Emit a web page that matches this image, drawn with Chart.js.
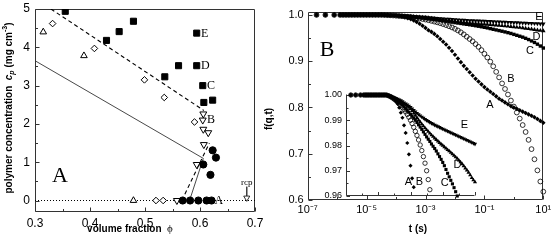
<!DOCTYPE html>
<html><head><meta charset="utf-8">
<script src="https://cdn.jsdelivr.net/npm/chart.js@4.4.0/dist/chart.umd.min.js"></script>
<style>
html,body{margin:0;padding:0;background:#fff;}
#wrap{position:relative;width:551px;height:244px;overflow:hidden;background:#fff;}
canvas{position:absolute;left:0;top:0;}
</style></head><body>
<div id="wrap">
<canvas id="cA" width="551" height="244"></canvas>
<canvas id="cB" width="551" height="244"></canvas>
<canvas id="cI" width="551" height="244"></canvas>
</div>
<script>
// ---------------- Panel A data (volume fraction phi, polymer concentration cp) ----------------
const sqPhi = [0.355, 0.430, 0.453, 0.479, 0.536, 0.561, 0.594, 0.594, 0.605, 0.607, 0.623];
const sqCp  = [4.94, 4.18, 4.41, 4.68, 3.23, 3.52, 4.37, 3.52, 3.00, 2.56, 2.62];
const diaPhi = [0.332, 0.408, 0.499, 0.535, 0.590, 0.520, 0.533];
const diaCp  = [4.62, 3.97, 3.15, 2.69, 2.05, 0, 0];
const triUpPhi = [0.315, 0.389, 0.479];
const triUpCp  = [4.40, 3.78, 0];
const triDnPhi = [0.606, 0.605, 0.606, 0.615, 0.607, 0.594, 0.558];
const triDnCp  = [2.26, 2.10, 1.86, 1.77, 1.46, 0.94, 0];
const circPhi = [0.623, 0.629, 0.606, 0.619, 0.5685, 0.582, 0.597, 0.612, 0.621];
const circCp  = [1.31, 1.12, 0.94, 0.67, 0, 0, 0, 0, 0];
const rcpPhi = [0.685];
const rcpCp  = [0.07];
const rcpArrowPhi = [0.685, 0.685];
const rcpArrowCp  = [0.36, 0.12];
const dashUpPhi = [0.329, 0.607];
const dashUpCp  = [5.0, 2.35];
const solidPhi = [0.3, 0.606, 0.581];
const solidCp  = [3.65, 1.1, 0];
const dashLoPhi = [0.567, 0.617];
const dashLoCp  = [0, 1.5];
const basePhi = [0.3, 0.7];
const baseCp  = [0, 0];
const xTicksA = [0.3, 0.4, 0.5, 0.6, 0.7];
const xMinorA = [0.35, 0.45, 0.55, 0.65];
const yTicksA = [0, 1, 2, 3, 4, 5];
const yMinorA = [0.5, 1.5, 2.5, 3.5, 4.5];

// ---------------- Panel B data (log10 t, f(q,t)) ----------------
const logTimes = [-6.7,-6.4,-6.1,-5.9,-5.8,-5.7,-5.6,-5.5,-5.4,-5.3,-5.2,-5.1,-5.0,-4.9,-4.8,-4.7,-4.6,
  -4.5,-4.4,-4.3,-4.2,-4.1,-4.0,-3.9,-3.8,-3.7,-3.6,-3.5,-3.4,-3.3,-3.2,-3.1,-3.0,-2.9,-2.8,-2.7,-2.6,
  -2.5,-2.4,-2.3,-2.2,-2.1,-2.0,-1.9,-1.8,-1.7,-1.6,-1.5,-1.4,-1.3,-1.2,-1.1,-1.0,-0.9,-0.8,-0.7,-0.6,
  -0.5,-0.4,-0.3,-0.2,-0.1,0.0,0.1,0.2,0.3,0.4,0.5,0.6,0.7,0.8,0.9,1.0];
const fA = [1,1,1,1,1,1,1,1,1,1,1,1,1,1,1,1,1,
  1.0,0.9998,0.9995,0.999,0.9987,0.9982,0.9975,0.9965,0.995,0.993,
  0.991,0.988,0.985,0.981,0.9765,0.972,0.967,0.9635,0.959,0.954,
  0.948,0.942,0.936,0.929,0.922,0.914,0.906,0.898,0.890,0.883,
  0.876,0.869,0.862,0.856,0.850,0.844,0.839,0.834,0.829,0.824,
  0.819,0.815,0.811,0.807,0.803,0.800,0.797,0.794,0.791,0.788,
  0.785,0.782,0.779,0.775,0.771,0.767];
const fB = [1,1,1,1,1,1,1,1,1,1,1,1,1,1,1,1,1,
  1.0,0.9998,0.9995,0.9992,0.9988,0.9983,0.9978,0.9972,0.9965,0.9958,
  0.995,0.9942,0.9933,0.9923,0.9912,0.990,0.9887,0.9872,0.9856,0.984,
  0.9822,0.9802,0.978,0.9756,0.973,0.970,0.9665,0.9625,0.958,0.953,
  0.948,0.943,0.937,0.931,0.924,0.916,0.908,0.899,0.889,0.877,
  0.865,0.852,0.840,0.828,0.815,0.802,0.789,0.776,0.762,0.747,
  0.730,0.710,0.688,0.664,0.640,0.618];
const fC = [1,1,1,1,1,1,1,1,1,1,1,1,1,1,1,1,1,
  1.0,0.9998,0.9996,0.9993,0.999,0.9986,0.9982,0.9977,0.9972,0.9966,
  0.996,0.9953,0.9946,0.9939,0.9932,0.9924,0.9916,0.9908,0.990,0.9891,
  0.9882,0.9873,0.9864,0.9854,0.9844,0.9834,0.9825,0.9816,0.9806,0.9797,
  0.9788,0.9778,0.9767,0.9756,0.9745,0.9733,0.972,0.9705,0.969,0.9676,
  0.9662,0.9648,0.9633,0.9617,0.960,0.958,0.956,0.954,0.952,0.9495,
  0.9468,0.9438,0.9405,0.9368,0.9328,0.9285];
const fD = [1,1,1,1,1,1,1,1,1,1,1,1,1,1,1,1,1,
  1.0,0.9998,0.9996,0.9994,0.9991,0.9988,0.9985,0.9981,0.9977,0.9973,
  0.9968,0.9964,0.9959,0.9954,0.995,0.9945,0.9937,0.9928,0.9919,0.991,
  0.9901,0.9893,0.9885,0.9877,0.9869,0.9862,0.9855,0.9848,0.9841,0.9835,
  0.9829,0.9823,0.9817,0.9811,0.9805,0.980,0.9794,0.9789,0.9783,0.9778,
  0.9772,0.9766,0.976,0.9754,0.9748,0.9741,0.9734,0.9727,0.9719,0.971,
  0.9702,0.9693,0.9683,0.9672,0.9663,0.9655];
const fE = [1,1,1,1,1,1,1,1,1,1,1,1,1,1,1,1,1,
  1.0,0.9998,0.9996,0.9994,0.9992,0.999,0.9987,0.9984,0.9981,0.9978,
  0.9974,0.997,0.9966,0.9962,0.9957,0.9952,0.9946,0.994,0.9934,0.9928,
  0.9923,0.9918,0.9913,0.9909,0.9904,0.990,0.9896,0.9892,0.9888,0.9885,
  0.9881,0.9878,0.9875,0.9872,0.9869,0.9866,0.9863,0.986,0.9857,0.9854,
  0.9851,0.9848,0.9845,0.9842,0.9839,0.9836,0.9833,0.983,0.9827,0.9824,
  0.9821,0.9818,0.9815,0.9812,0.9809,0.9806];
const xTicksB = [1e-7, 1e-5, 1e-3, 1e-1, 10];
const xMinorB = [1e-6, 1e-4, 1e-2, 1];
const yTicksB = [0.6, 0.7, 0.8, 0.9, 1.0];
const yMinorB = [0.65, 0.75, 0.85, 0.95];
const yTicksI = [0.96, 0.97, 0.98, 0.99, 1.00];
const yMinorI = [0.965, 0.975, 0.985, 0.995];

// ---------------- helpers ----------------
const SANS = '"Liberation Sans", Arial, Helvetica, sans-serif';
const SERIF = '"Liberation Serif", "Times New Roman", serif';
const xy = (xs, ys) => xs.map((x, i) => ({x: x, y: ys[i]}));
const tSec = logTimes.map(L => Math.pow(10, L));
const series = (vals) => vals.map((v, i) => ({x: tSec[i], y: v}));
const fixBox = (w, h) => (s) => {
  if (w !== null) s.width = w;
  if (h !== null) s.height = h;
  s.paddingLeft = 0; s.paddingRight = 0; s.paddingTop = 0; s.paddingBottom = 0;
};
const setTicks = (vals) => (s) => { s.ticks = vals.map(v => ({value: v})); };
const SUP = {'-':'\u207B','0':'\u2070','1':'\u00B9','2':'\u00B2','3':'\u00B3','4':'\u2074','5':'\u2075','6':'\u2076','7':'\u2077','8':'\u2078','9':'\u2079'};
const powLabel = v => '10' + String(Math.round(Math.log10(v))).split('').map(c => SUP[c]).join('');

const framePlugin = {
  id: 'frame',
  beforeDatasetsDraw(chart, args, o) {
    const {ctx, chartArea: a, scales} = chart;
    ctx.save();
    ctx.strokeStyle = o.color || '#222';
    ctx.lineWidth = 1;
    const L = Math.round(a.left) + 0.5, R = Math.round(a.right) - 0.5;
    const T = Math.round(a.top) + 0.5, B = Math.round(a.bottom) - 0.5;
    ctx.beginPath();
    if (o.full) { ctx.rect(L, T, R - L, B - T); }
    else { ctx.moveTo(L, T - 1); ctx.lineTo(L, B); ctx.lineTo(R, B); }
    ctx.stroke();
    ctx.beginPath();
    const tk = o.ticks || {};
    const doX = (vals, len) => (vals || []).forEach(v => {
      const px = Math.round(scales.x.getPixelForValue(v)) + 0.5;
      ctx.moveTo(px, B); ctx.lineTo(px, B - len);
    });
    const doY = (vals, len) => (vals || []).forEach(v => {
      const py = Math.round(scales.y.getPixelForValue(v)) + 0.5;
      ctx.moveTo(L, py); ctx.lineTo(L + len, py);
    });
    if (tk.x) { doX(tk.x.major, o.major || 4); doX(tk.x.minor, o.minor || 2.5); }
    if (tk.y) { doY(tk.y.major, o.major || 4); doY(tk.y.minor, o.minor || 2.5); }
    ctx.stroke();
    ctx.restore();
  }
};

const textPlugin = {
  id: 'texts',
  afterDraw(chart, args, o) {
    const ctx = chart.ctx;
    (o.items || []).forEach(it => {
      const parts = it.parts || [{t: it.t, f: it.f}];
      ctx.save();
      ctx.translate(it.x, it.y);
      if (it.rot) ctx.rotate(it.rot);
      ctx.fillStyle = '#000';
      ctx.textBaseline = 'middle';
      ctx.textAlign = 'left';
      let total = 0;
      parts.forEach(p => { ctx.font = p.f; p.w = ctx.measureText(p.t).width; total += p.w; });
      let cx = it.align === 'left' ? 0 : -total / 2;
      parts.forEach(p => { ctx.font = p.f; ctx.fillText(p.t, cx, p.dy || 0); cx += p.w; });
      ctx.restore();
    });
  }
};

const baseOpts = () => ({
  animation: false, responsive: false, maintainAspectRatio: false, devicePixelRatio: 1, events: [],
  plugins: {legend: {display: false}, tooltip: {enabled: false}}
});
const tickFont = (size) => ({family: SANS, size: size});
const axisCommon = {grid: {display: false, drawTicks: false}, border: {display: false}};

// ---------------- Chart A ----------------
const optsA = baseOpts();
optsA.layout = {padding: {left: 5, right: 296, top: 9, bottom: 0}};
optsA.scales = {
  x: Object.assign({}, axisCommon, {type: 'linear', min: 0.3, max: 0.7,
    afterBuildTicks: setTicks(xTicksA), afterFit: fixBox(null, 32),
    ticks: {padding: 4, color: '#000', font: tickFont(12), maxRotation: 0, autoSkip: false, callback: v => v.toFixed(1)}}),
  y: Object.assign({}, axisCommon, {type: 'linear', min: -0.3, max: 5,
    afterBuildTicks: setTicks(yTicksA), afterFit: fixBox(30, null),
    ticks: {padding: 5, color: '#000', font: tickFont(12), autoSkip: false, callback: v => String(v)}})
};
optsA.plugins.frame = {full: true, color: '#333', ticks: {x: {major: xTicksA, minor: xMinorA}, y: {major: yTicksA, minor: yMinorA}}};
optsA.plugins.texts = {items: [
  {parts: [
    {t: 'polymer concentration  ', f: 'bold 10px ' + SANS},
    {t: 'c', f: 'italic bold 10px ' + SANS},
    {t: 'p', f: 'italic bold 7px ' + SANS, dy: 3},
    {t: ' (mg cm', f: 'bold 10px ' + SANS},
    {t: '-3', f: 'bold 7px ' + SANS, dy: -4},
    {t: ')', f: 'bold 10px ' + SANS}], x: 9, y: 108, rot: -Math.PI / 2},
  {parts: [{t: 'volume fraction  ', f: 'bold 10px ' + SANS}, {t: '\u03D5', f: '11px ' + SERIF}], x: 130, y: 229},
  {t: 'A', f: '22px ' + SERIF, x: 60, y: 176},
  {t: 'E', f: '12px ' + SERIF, x: 201, y: 34, align: 'left'},
  {t: 'D', f: '12px ' + SERIF, x: 201, y: 66, align: 'left'},
  {t: 'C', f: '12px ' + SERIF, x: 207, y: 86, align: 'left'},
  {t: 'B', f: '12px ' + SERIF, x: 207, y: 119.5, align: 'left'},
  {t: 'A', f: '12px ' + SERIF, x: 214.5, y: 200.5, align: 'left'},
  {t: 'rcp', f: '9px ' + SERIF, x: 246.7, y: 183}
]};
const pt = (data, style, r, fill, extra) => Object.assign({data: data, showLine: false, pointStyle: style, pointRadius: r,
  pointBackgroundColor: fill, pointBorderColor: '#000', pointBorderWidth: 1}, extra || {});
const ln = (data, dash, w, col) => ({data: data, showLine: true, pointRadius: 0, borderColor: col || '#000', borderWidth: w, borderDash: dash, fill: false});
new Chart(document.getElementById('cA'), {
  type: 'scatter',
  data: {datasets: [
    pt(xy(sqPhi, sqCp), 'rect', 4.3, '#000'),
    pt(xy(circPhi, circCp), 'circle', 3.6, '#000'),
    pt(xy(triDnPhi, triDnCp), 'triangle', 4.0, '#fff', {pointRotation: 180}),
    pt(xy(diaPhi, diaCp), 'rectRot', 3.3, '#fff'),
    pt(xy(triUpPhi, triUpCp), 'triangle', 3.8, '#fff'),
    pt(xy(rcpPhi, rcpCp), 'triangle', 3.5, '#fff', {pointRotation: 180, pointBorderWidth: 0.8}),
    ln(xy(dashUpPhi, dashUpCp), [4, 3], 1.1),
    ln(xy(solidPhi, solidCp), [], 0.9, '#333'),
    ln(xy(dashLoPhi, dashLoCp), [4, 3], 1.1),
    ln(xy(rcpArrowPhi, rcpArrowCp), [], 0.8, '#333'),
    ln(xy(basePhi, baseCp), [1, 2], 1)
  ]},
  options: optsA,
  plugins: [framePlugin, textPlugin]
});

// ---------------- Chart B (main) ----------------
const mainStyles = [
  {d: fA, s: 'rectRot', r: 2.3, fill: '#000'},
  {d: fB, s: 'circle', r: 2.4, fill: 'rgba(0,0,0,0)'},
  {d: fC, s: 'rect', r: 2.4, fill: '#000'},
  {d: fD, s: 'triangle', r: 2.6, fill: '#000'},
  {d: fE, s: 'triangle', r: 2.6, fill: '#000', rot: 180}
];
const optsB = baseOpts();
optsB.layout = {padding: {left: 277.7, right: 7.7, top: 11.7, bottom: 0}};
optsB.scales = {
  x: Object.assign({}, axisCommon, {type: 'logarithmic', min: 1e-7, max: 10,
    afterBuildTicks: setTicks(xTicksB), afterFit: fixBox(null, 44),
    ticks: {padding: 3, color: '#000', font: tickFont(11), maxRotation: 0, autoSkip: false, callback: v => powLabel(v)}}),
  y: Object.assign({}, axisCommon, {type: 'linear', min: 0.6, max: 1.007,
    afterBuildTicks: setTicks(yTicksB), afterFit: fixBox(30, null),
    ticks: {padding: 4, color: '#000', font: tickFont(11), autoSkip: false, callback: v => v.toFixed(1)}})
};
optsB.plugins.frame = {full: true, color: '#333', ticks: {x: {major: xTicksB, minor: xMinorB}, y: {major: yTicksB, minor: yMinorB}}};
optsB.plugins.texts = {items: [
  {t: 'f(q,t)', f: 'bold 10px ' + SANS, x: 269, y: 119, rot: -Math.PI / 2},
  {t: 't (s)', f: 'bold 10px ' + SANS, x: 418, y: 229},
  {t: 'B', f: '22px ' + SERIF, x: 327, y: 50},
  {t: 'E', f: '11px ' + SANS, x: 539, y: 16.5},
  {t: 'D', f: '11px ' + SANS, x: 536.5, y: 37.3},
  {t: 'C', f: '11px ' + SANS, x: 530, y: 51},
  {t: 'B', f: '11px ' + SANS, x: 511, y: 79},
  {t: 'A', f: '11px ' + SANS, x: 490, y: 105}
]};
new Chart(document.getElementById('cB'), {
  type: 'scatter',
  data: {datasets: mainStyles.map(m => pt(series(m.d), m.s, m.r, m.fill,
    {pointRotation: m.rot || 0, pointBorderWidth: m.s === 'circle' ? 0.8 : 0, clip: false}))},
  options: optsB,
  plugins: [framePlugin, textPlugin]
});

// ---------------- Inset ----------------
const optsI = baseOpts();
optsI.layout = {padding: {left: 320, right: 76, top: 95, bottom: 40}};
optsI.scales = {
  x: Object.assign({}, axisCommon, {type: 'logarithmic', min: 1e-7, max: 10,
    afterBuildTicks: setTicks(xTicksB), afterFit: fixBox(null, 8), ticks: {display: false}}),
  y: Object.assign({}, axisCommon, {type: 'linear', min: 0.96, max: 1.0,
    afterBuildTicks: setTicks(yTicksI), afterFit: fixBox(26, null),
    ticks: {padding: 4, color: '#000', font: tickFont(9), autoSkip: false, callback: v => v.toFixed(2)}})
};
optsI.plugins.frame = {full: false, color: '#333', major: 3.5, minor: 2, ticks: {x: {major: xTicksB, minor: xMinorB}, y: {major: yTicksI, minor: yMinorI}}};
optsI.plugins.texts = {items: [
  {t: 'E', f: '11px ' + SANS, x: 464.5, y: 125},
  {t: 'D', f: '11px ' + SANS, x: 457.5, y: 165.3},
  {t: 'C', f: '11px ' + SANS, x: 444.7, y: 183},
  {t: 'B', f: '11px ' + SANS, x: 419.3, y: 181.7},
  {t: 'A', f: '11px ' + SANS, x: 408.3, y: 181.7}
]};
new Chart(document.getElementById('cI'), {
  type: 'scatter',
  data: {datasets: mainStyles.map(m => pt(series(m.d).filter(p => p.y >= 0.96), m.s, m.r - 0.2, m.fill,
    {pointRotation: m.rot || 0, pointBorderWidth: m.s === 'circle' ? 0.8 : 0, clip: false}))},
  options: optsI,
  plugins: [framePlugin, textPlugin]
});
</script>
</body></html>
